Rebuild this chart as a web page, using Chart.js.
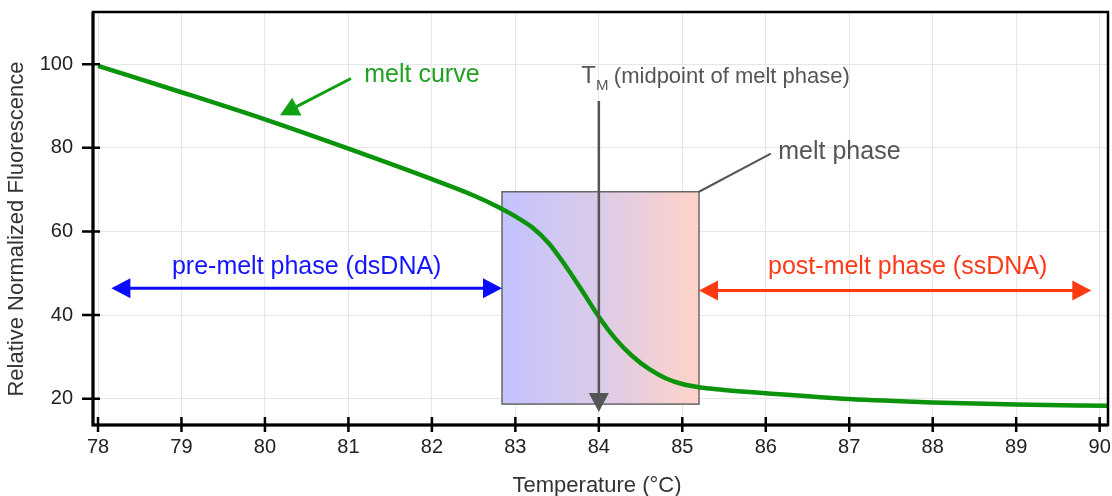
<!DOCTYPE html>
<html>
<head>
<meta charset="utf-8">
<script src="https://cdn.jsdelivr.net/npm/chart.js@4.4.1/dist/chart.umd.min.js"></script>
<style>
  html, body { margin: 0; padding: 0; background: #fff; }
  #wrap { width: 1112px; height: 496px; }
</style>
</head>
<body>
<div id="wrap"><canvas id="meltChart"></canvas></div>
<script>
// melt curve
const temps = [78, 79, 80, 81, 82, 82.5, 82.8, 83.0, 83.2, 83.4, 83.6, 83.8, 84.0, 84.2, 84.4, 84.6, 84.8, 85.0, 85.25, 85.5, 86, 87, 88, 89, 90.1];
const fluorescence = [99.6, 93.3, 86.8, 79.8, 72.5, 68.6, 65.8, 63.6, 61.0, 57.2, 51.8, 45.8, 39.6, 34.3, 30.2, 27.1, 24.9, 23.5, 22.6, 22.1, 21.3, 19.9, 19.1, 18.6, 18.3];
const xTicks = [78, 79, 80, 81, 82, 83, 84, 85, 86, 87, 88, 89, 90];
const yTicks = [20, 40, 60, 80, 100];
const xTitle = 'Temperature (°C)';
const yTitle = 'Relative Normalized Fluorescence';

// annotation anchors, in data units
const meltBox = [82.84, 85.2, 18.7, 69.5];        // x0, x1, y0, y1
const tmArrow = [84, 91.2, 16.8];                 // x, yFrom, yTip
const preMeltArrow = [78.16, 82.84, 46.4];        // xLeft, xRight, y
const postMeltArrow = [85.2, 89.9, 45.9];
const curveArrow = [81.03, 96.6, 80.18, 87.8];    // from x,y -> tip x,y
const phaseLeader = [85.2, 69.5, 86.06, 78.6];

const FONT = '"Liberation Sans", Arial, sans-serif';

function head(ctx, tx, ty, ang, len, half) {
  ctx.beginPath();
  ctx.moveTo(tx, ty);
  ctx.lineTo(tx - len * Math.cos(ang) + half * Math.sin(ang), ty - len * Math.sin(ang) - half * Math.cos(ang));
  ctx.lineTo(tx - len * Math.cos(ang) - half * Math.sin(ang), ty - len * Math.sin(ang) + half * Math.cos(ang));
  ctx.closePath();
  ctx.fill();
}

function arrow(ctx, x0, y0, x1, y1, color, width, twoWay) {
  const ang = Math.atan2(y1 - y0, x1 - x0);
  const len = 19, half = 10;
  ctx.strokeStyle = color; ctx.fillStyle = color; ctx.lineWidth = width;
  ctx.beginPath();
  ctx.moveTo(twoWay ? x0 + (len - 2) * Math.cos(ang) : x0, twoWay ? y0 + (len - 2) * Math.sin(ang) : y0);
  ctx.lineTo(x1 - (len - 2) * Math.cos(ang), y1 - (len - 2) * Math.sin(ang));
  ctx.stroke();
  head(ctx, x1, y1, ang, len, half);
  if (twoWay) head(ctx, x0, y0, ang + Math.PI, len, half);
}

const boxPlugin = {
  id: 'meltBox',
  beforeDatasetsDraw(chart) {
    const ctx = chart.ctx, xs = chart.scales.x, ys = chart.scales.y;
    const x0 = xs.getPixelForValue(meltBox[0]), x1 = xs.getPixelForValue(meltBox[1]);
    const y0 = ys.getPixelForValue(meltBox[3]), y1 = ys.getPixelForValue(meltBox[2]);
    ctx.save();
    const g = ctx.createLinearGradient(x0, 0, x1, 0);
    g.addColorStop(0, '#c2c2ff');
    g.addColorStop(0.5, '#dccbe8');
    g.addColorStop(1, '#ffd3c8');
    ctx.fillStyle = g;
    ctx.fillRect(x0, y0, x1 - x0, y1 - y0);
    ctx.strokeStyle = '#666';
    ctx.lineWidth = 1.5;
    ctx.strokeRect(x0, y0, x1 - x0, y1 - y0);
    ctx.restore();
  }
};

const notesPlugin = {
  id: 'notes',
  afterDatasetsDraw(chart) {
    const ctx = chart.ctx, xs = chart.scales.x, ys = chart.scales.y;
    const px = v => xs.getPixelForValue(v), py = v => ys.getPixelForValue(v);
    ctx.save();

    // Tm arrow
    arrow(ctx, px(tmArrow[0]), py(tmArrow[1]), px(tmArrow[0]), py(tmArrow[2]), '#555', 2.5, false);

    // phase arrows
    arrow(ctx, px(preMeltArrow[0]), py(preMeltArrow[2]), px(preMeltArrow[1]), py(preMeltArrow[2]), '#0a0aff', 3, true);
    arrow(ctx, px(postMeltArrow[0]), py(postMeltArrow[2]), px(postMeltArrow[1]), py(postMeltArrow[2]), '#ff3a12', 3, true);

    // melt curve pointer
    arrow(ctx, px(curveArrow[0]), py(curveArrow[1]), px(curveArrow[2]), py(curveArrow[3]), '#11a011', 3, false);

    // melt phase leader
    ctx.strokeStyle = '#555'; ctx.lineWidth = 2;
    ctx.beginPath();
    ctx.moveTo(px(phaseLeader[0]), py(phaseLeader[1]));
    ctx.lineTo(px(phaseLeader[2]), py(phaseLeader[3]));
    ctx.stroke();

    ctx.textBaseline = 'alphabetic';
    ctx.textAlign = 'left';
    ctx.fillStyle = '#22a022';
    ctx.font = '25px ' + FONT;
    ctx.fillText('melt curve', px(81.19), py(95.8));

    ctx.fillStyle = '#555';
    ctx.fillText('melt phase', px(86.15), py(77.4));

    ctx.font = '24px ' + FONT;
    ctx.fillText('T', px(83.79), py(95.4));
    ctx.font = '15px ' + FONT;
    ctx.fillText('M', px(83.965), py(93.8));
    ctx.font = '22px ' + FONT;
    ctx.fillText('(midpoint of melt phase)', px(84.18), py(95.4));

    ctx.textAlign = 'center';
    ctx.font = '25px ' + FONT;
    ctx.fillStyle = '#1414ff';
    ctx.fillText('pre-melt phase (dsDNA)', px(80.5), py(49.8));
    ctx.fillStyle = '#ff3a18';
    ctx.fillText('post-melt phase (ssDNA)', px(87.7), py(49.8));
    ctx.restore();
  },
  afterDraw(chart) {
    const ctx = chart.ctx, a = chart.chartArea, xs = chart.scales.x, ys = chart.scales.y;
    ctx.save();
    ctx.strokeStyle = '#000';
    ctx.lineWidth = 2.5;
    ctx.strokeRect(a.left, a.top, a.right - a.left, a.bottom - a.top);
    ctx.lineWidth = 3;
    ctx.beginPath();
    ctx.moveTo(a.left, a.top); ctx.lineTo(a.left, a.bottom); ctx.lineTo(a.right, a.bottom);
    ctx.stroke();
    // ticks crossing the axes
    ctx.lineWidth = 2.5;
    ctx.beginPath();
    xTicks.forEach(v => {
      const x = xs.getPixelForValue(v);
      ctx.moveTo(x, a.bottom - 8); ctx.lineTo(x, a.bottom + 7);
    });
    yTicks.forEach(v => {
      const y = ys.getPixelForValue(v);
      ctx.moveTo(a.left - 11, y); ctx.lineTo(a.left + 7, y);
    });
    ctx.stroke();

    // axis titles
    ctx.fillStyle = '#333';
    ctx.font = '22px ' + FONT;
    ctx.textAlign = 'center';
    ctx.textBaseline = 'alphabetic';
    ctx.fillText(xTitle, 597, 492);
    ctx.translate(17, 229);
    ctx.rotate(-Math.PI / 2);
    ctx.textBaseline = 'middle';
    ctx.fillText(yTitle, 0, 0);
    ctx.restore();
  }
};

const ctx = document.getElementById('meltChart').getContext('2d');
new Chart(ctx, {
  type: 'line',
  data: {
    datasets: [{
      data: temps.map((t, i) => ({ x: t, y: fluorescence[i] })),
      borderColor: '#0b930b',
      borderWidth: 4.5,
      pointRadius: 0,
      cubicInterpolationMode: 'monotone',
      fill: false
    }]
  },
  options: {
    responsive: true,
    maintainAspectRatio: false,
    animation: false,
    events: [],
    layout: { padding: { left: 0, top: 12, right: 4, bottom: 0 } },
    plugins: { legend: { display: false }, tooltip: { enabled: false } },
    scales: {
      x: {
        type: 'linear',
        min: 77.94,
        max: 90.1,
        afterBuildTicks: s => { s.ticks = xTicks.map(v => ({ value: v })); },
        afterFit: s => { s.height = 71; s.paddingLeft = 0; s.paddingRight = 0; },
        grid: { color: '#e6e6e6', lineWidth: 1, drawTicks: false },
        border: { display: false },
        ticks: { padding: 10, color: '#222', font: { size: 20, family: FONT }, maxRotation: 0 },
        title: { display: false }
      },
      y: {
        min: 13.7,
        max: 112.5,
        afterBuildTicks: s => { s.ticks = yTicks.map(v => ({ value: v })); },
        afterFit: s => { s.width = 93; s.paddingTop = 0; s.paddingBottom = 0; },
        grid: { color: '#e6e6e6', lineWidth: 1, drawTicks: false },
        border: { display: false },
        ticks: { padding: 20, color: '#222', font: { size: 20, family: FONT } },
        title: { display: false }
      }
    }
  },
  plugins: [boxPlugin, notesPlugin]
});
</script>
</body>
</html>
